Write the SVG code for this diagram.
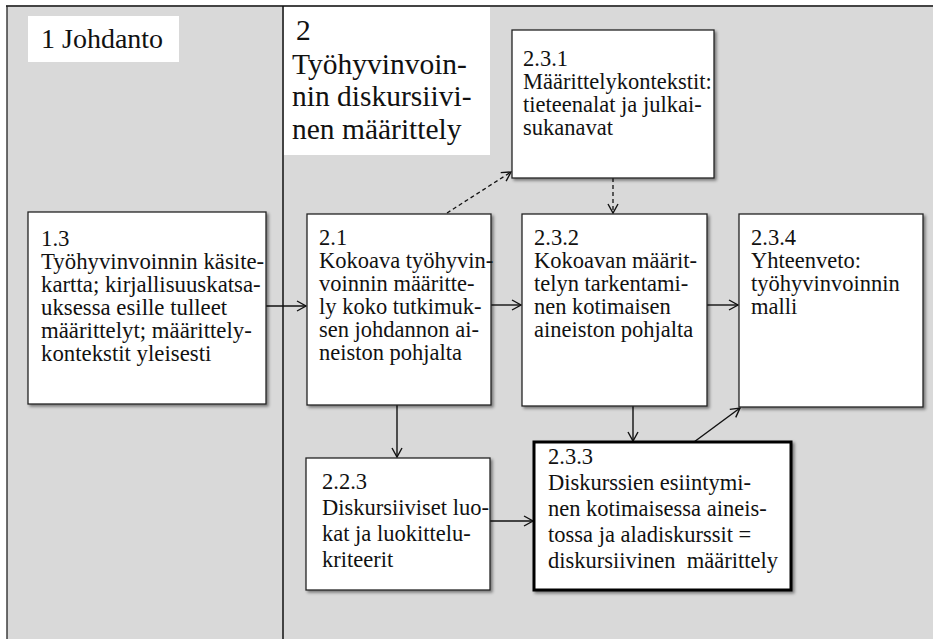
<svg xmlns="http://www.w3.org/2000/svg" width="933" height="639" viewBox="0 0 933 639">
  <style>
    text { font-family: 'Liberation Serif', Tinos, 'Times New Roman', 'DejaVu Serif', serif; fill: #111; }
    .h1 { font-size: 28px; }
    .h2 { font-size: 29.5px; }
    .t { font-size: 22.5px; }
    .t2 { font-size: 22.8px; }
    .box { fill: #fff; stroke: #222; stroke-width: 1.3; }
    .thick { fill: #fff; stroke: #000; stroke-width: 3; }
    .c { fill: none; stroke: #111; stroke-width: 1.4; }
    .d { fill: none; stroke: #111; stroke-width: 1.3; stroke-dasharray: 4 3; }
  </style>
  <defs>
    <marker id="arr" markerWidth="12" markerHeight="12" refX="10" refY="6" orient="auto" markerUnits="userSpaceOnUse">
      <path d="M1,1 L10,6 L1,11" fill="none" stroke="#111" stroke-width="1.4"/>
    </marker>
    <filter id="sh" x="-10%" y="-10%" width="125%" height="125%">
      <feDropShadow dx="2" dy="2" stdDeviation="1.5" flood-color="#000" flood-opacity="0.45"/>
    </filter>
  </defs>

  <rect x="0" y="0" width="933" height="639" fill="#fff"/>
  <!-- panel background and frame -->
  <rect x="7" y="6" width="926" height="633" fill="#d9d9d9"/>
  <line x1="6" y1="6" x2="933" y2="6" stroke="#444" stroke-width="1.8"/>
  <line x1="7" y1="6" x2="7" y2="639" stroke="#222" stroke-width="1.3"/>
  <line x1="283" y1="6" x2="283" y2="639" stroke="#111" stroke-width="1.5"/>

  <!-- chapter headings -->
  <g id="chapter1">
    <rect x="28" y="16" width="151" height="46" fill="#fff"/>
    <text class="h1" x="41" y="48">1 Johdanto</text>
  </g>
  <g id="chapter2">
    <rect x="284" y="7" width="206" height="148" fill="#fff"/>
    <text class="h2" x="296" y="40">2</text>
    <text class="h2" x="292" y="74">Työhyvinvoin-</text>
    <text class="h2" x="292" y="106">nin diskursiivi-</text>
    <text class="h2" x="292" y="139">nen määrittely</text>
  </g>

  <!-- connectors -->
  <g id="connectors">
    <line class="c" x1="266" y1="306" x2="306" y2="306" marker-end="url(#arr)"/>
    <line class="c" x1="491" y1="305" x2="521" y2="305" marker-end="url(#arr)"/>
    <line class="c" x1="707" y1="305" x2="738" y2="305" marker-end="url(#arr)"/>
    <line class="d" x1="447" y1="213" x2="511" y2="172" marker-end="url(#arr)"/>
    <line class="d" x1="613" y1="178" x2="613" y2="213" marker-end="url(#arr)"/>
    <line class="c" x1="397" y1="405" x2="397" y2="457" marker-end="url(#arr)"/>
    <line class="c" x1="633" y1="406" x2="633" y2="441" marker-end="url(#arr)"/>
    <line class="c" x1="490" y1="521" x2="533" y2="521" marker-end="url(#arr)"/>
    <line class="c" x1="694" y1="442" x2="740" y2="408" marker-end="url(#arr)"/>
  </g>

  <g id="n1-3">
    <rect class="box" x="28" y="212" width="238" height="192" filter="url(#sh)"/>
    <text class="t2" x="41" y="246">1.3</text>
    <text class="t2" x="41" y="269">Työhyvinvoinnin käsite-</text>
    <text class="t2" x="41" y="292">kartta; kirjallisuuskatsa-</text>
    <text class="t2" x="41" y="315">uksessa esille tulleet</text>
    <text class="t2" x="41" y="338">määrittelyt; määrittely-</text>
    <text class="t2" x="41" y="361">kontekstit yleisesti</text>
  </g>

  <g id="n2-1">
    <rect class="box" x="307" y="214" width="184" height="191" filter="url(#sh)"/>
    <text class="t" x="319" y="245">2.1</text>
    <text class="t" x="319" y="268">Kokoava työhyvin-</text>
    <text class="t" x="319" y="291">voinnin määritte-</text>
    <text class="t" x="319" y="314">ly koko tutkimuk-</text>
    <text class="t" x="319" y="337">sen johdannon ai-</text>
    <text class="t" x="319" y="360">neiston pohjalta</text>
  </g>

  <g id="n2-3-1">
    <rect class="box" x="512" y="30" width="202" height="148" filter="url(#sh)"/>
    <text class="t" x="523" y="66">2.3.1</text>
    <text class="t" x="523" y="89">Määrittelykontekstit:</text>
    <text class="t" x="523" y="112">tieteenalat ja julkai-</text>
    <text class="t" x="523" y="135">sukanavat</text>
  </g>

  <g id="n2-3-2">
    <rect class="box" x="522" y="214" width="185" height="192" filter="url(#sh)"/>
    <text class="t" x="534" y="245">2.3.2</text>
    <text class="t" x="534" y="268">Kokoavan määrit-</text>
    <text class="t" x="534" y="291">telyn tarkentami-</text>
    <text class="t" x="534" y="314">nen kotimaisen</text>
    <text class="t" x="534" y="337">aineiston pohjalta</text>
  </g>

  <g id="n2-3-4">
    <rect class="box" x="739" y="214" width="184" height="193" filter="url(#sh)"/>
    <text class="t" x="751" y="245">2.3.4</text>
    <text class="t" x="751" y="268">Yhteenveto:</text>
    <text class="t" x="751" y="291">työhyvinvoinnin</text>
    <text class="t" x="751" y="314">malli</text>
  </g>

  <g id="n2-2-3">
    <rect class="box" x="306" y="458" width="184" height="132" filter="url(#sh)"/>
    <text class="t" x="322" y="489">2.2.3</text>
    <text class="t" x="322" y="515">Diskursiiviset luo-</text>
    <text class="t" x="322" y="541">kat ja luokittelu-</text>
    <text class="t" x="322" y="567">kriteerit</text>
  </g>

  <g id="n2-3-3">
    <rect class="thick" x="534" y="442" width="257" height="148" filter="url(#sh)"/>
    <text class="t" x="548" y="464">2.3.3</text>
    <text class="t" x="548" y="490">Diskurssien esiintymi-</text>
    <text class="t" x="548" y="516">nen kotimaisessa aineis-</text>
    <text class="t" x="548" y="542">tossa ja aladiskurssit =</text>
    <text class="t" x="548" y="568" xml:space="preserve">diskursiivinen  määrittely</text>
  </g>
</svg>
